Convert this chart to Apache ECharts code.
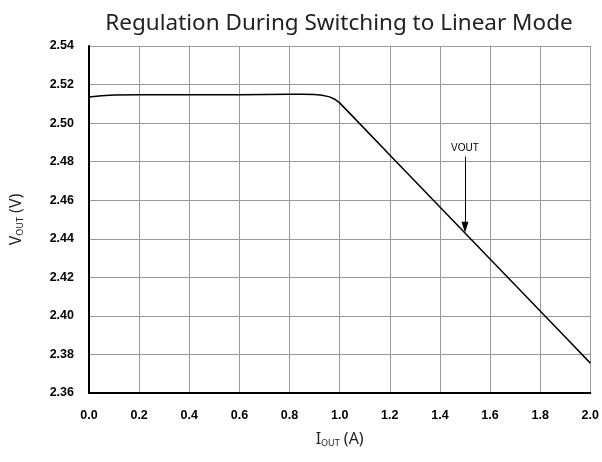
<!DOCTYPE html>
<html><head><meta charset="utf-8">
<script src="https://cdn.jsdelivr.net/npm/echarts@6/dist/echarts.min.js"></script>
<style>html,body{margin:0;padding:0;background:#fff}#c{width:602px;height:462px}</style>
</head><body><div id="c"></div>
<script>
const titleText = 'Regulation During Switching to Linear Mode';
const iout = [0, 0.05, 0.1, 0.2, 0.3, 0.4, 0.5, 0.6, 0.7, 0.8, 0.85, 0.9, 0.93, 0.96, 0.98, 1.0, 1.1, 1.2, 1.3, 1.4, 1.5, 1.6, 1.7, 1.8, 1.9, 2.0];
const vout = [2.5135, 2.5142, 2.5146, 2.5147, 2.5147, 2.5147, 2.5147, 2.5147, 2.5149, 2.5150, 2.5150, 2.5149, 2.5145, 2.5136, 2.5124, 2.5105, 2.4970, 2.4835, 2.4700, 2.4565, 2.4430, 2.4295, 2.4160, 2.4025, 2.3890, 2.3755];
const annotLabel = 'VOUT';
const annotX = 1.5;
const annotYStart = 2.4826;
const annotYEnd = 2.4460;

const chart = echarts.init(document.getElementById('c'), null, {renderer: 'canvas'});
chart.setOption({
  animation: false,
  title: {
    text: titleText, left: 334, top: 7, textAlign: 'center',
    textStyle: {fontFamily: 'Noto Sans', fontWeight: 'normal', fontSize: 22.5, color: '#222'}
  },
  grid: {left: 87, right: 11, top: 46, bottom: 69, containLabel: false},
  xAxis: {
    type: 'value', min: 0, max: 2, interval: 0.2,
    name: '{m|I}{s|OUT}{m| (A)}', nameLocation: 'middle', nameGap: 37,
    nameTextStyle: {rich: {
      m: {fontFamily: 'Noto Sans', fontSize: 16, color: '#222'},
      s: {fontFamily: 'Noto Sans', fontSize: 9, color: '#222', verticalAlign: 'bottom', padding: [9,0,0,0]}
    }},
    axisLine: {lineStyle: {color: '#000', width: 2}},
    axisTick: {show: false},
    axisLabel: {fontFamily: 'Liberation Sans', fontWeight: 'bold', fontSize: 12.5, color: '#000', margin: 16,
      formatter: v => v.toFixed(1)},
    splitLine: {lineStyle: {color: '#999', width: 1}}
  },
  yAxis: {
    type: 'value', min: 2.36, max: 2.54, interval: 0.02,
    name: '{m|V}{s|OUT}{m| (V)}', nameLocation: 'middle', nameGap: 64, nameRotate: 90,
    nameTextStyle: {rich: {
      m: {fontFamily: 'Noto Sans', fontSize: 16, color: '#222'},
      s: {fontFamily: 'Noto Sans', fontSize: 9, color: '#222', verticalAlign: 'bottom', padding: [9,0,0,0]}
    }},
    axisLine: {show: true, lineStyle: {color: '#000', width: 2}},
    axisTick: {show: false},
    axisLabel: {fontFamily: 'Liberation Sans', fontWeight: 'bold', fontSize: 12.5, color: '#000', margin: 15,
      formatter: v => v.toFixed(2)},
    splitLine: {lineStyle: {color: '#999', width: 1}}
  },
  series: [{
    type: 'line', data: iout.map((x, i) => [x, vout[i]]),
    showSymbol: false, smooth: false,
    lineStyle: {color: '#000', width: 1.5},
    markLine: {
      silent: true, symbol: ['none', 'triangle'], symbolSize: [7, 11],
      lineStyle: {color: '#000', width: 1, type: 'solid'},
      label: {show: true, position: 'start', formatter: annotLabel, fontFamily: 'Liberation Sans', fontSize: 10, color: '#000', distance: 3},
      data: [[{coord: [annotX, annotYStart]}, {coord: [annotX, annotYEnd]}]]
    }
  }]
});
</script></body></html>
